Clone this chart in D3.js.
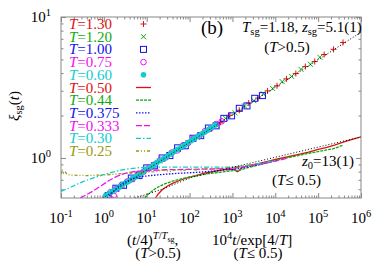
<!DOCTYPE html>
<html>
<head>
<meta charset="utf-8">
<script src="https://cdn.jsdelivr.net/npm/d3@7"></script>
<style>
  body { margin: 0; background: #fff; }
  text { font-family: "Liberation Serif", "Times New Roman", serif; fill: #000; }
</style>
</head>
<body>
<div id="chart"></div>
<script>
// legend / series
let temps = ["1.30", "1.20", "1.00", "0.75", "0.60", "0.50", "0.44", "0.375", "0.333", "0.30", "0.25"]
let colors = ["#dd1111", "#11aa11", "#1111ee", "#ee11ee", "#11cccc", "#dd1111", "#11aa11", "#1111ee", "#ee11ee", "#11cccc", "#999911"]
let kinds = ["plus", "cross", "square", "circle", "dot", "solid", "dotted", "fine", "dashed", "dashdot", "dashdotdot"]

let xTickExp = [-1, 0, 1, 2, 3, 4, 5, 6]
let yTickExp = [0, 1]

// T > 0.5 : markers, [x, xi]
let t130 = [[2.0,0.60],[3.3,0.67],[5.5,0.74],[9.1,0.81],[15,0.90],[25,0.99],[42,1.11],[69,1.20],[115,1.35],[190,1.47],[316,1.64],[525,1.79],[871,2.01],[1445,2.18],[2399,2.45],[3981,2.66],[6607,2.99],[10965,3.25],[18197,3.64],[30200,3.97],[50119,4.45],[83176,4.83],[138038,5.42],[229087,5.90],[380189,6.60]]
let t120 = [[1.58,0.58],[2.63,0.64],[4.37,0.70],[7.24,0.78],[12.0,0.86],[20.0,0.95],[33.1,1.06],[55.0,1.15],[91.2,1.29],[151,1.40],[251,1.57],[417,1.71],[692,1.91],[1148,2.09],[1905,2.34],[3162,2.55],[5248,2.85],[8710,3.11],[14454,3.48],[23988,3.79],[39811,4.25],[66069,4.62],[109648,5.18]]
let t100 = [[1.26,0.54],[1.91,0.61],[2.88,0.64],[4.37,0.72],[6.61,0.75],[10,0.85],[15.1,0.88],[22.9,1.00],[34.7,1.04],[52.5,1.18],[79.4,1.22],[120,1.38],[182,1.44],[275,1.63],[417,1.69],[631,1.91],[955,1.99],[1445,2.25],[2188,2.34],[3311,2.65],[5012,2.77]]
let t075 = [[1.5,0.51],[1.7,0.54],[1.41,0.57],[1.91,0.60],[2.57,0.64],[3.47,0.68],[4.68,0.71],[6.31,0.77],[8.51,0.80],[11.5,0.86],[15.5,0.90],[20.9,0.97],[28.2,1.01],[38.0,1.09],[51.3,1.13],[69.2,1.22],[93.3,1.28],[126,1.38],[170,1.44],[229,1.55],[309,1.62],[417,1.74],[562,1.82]]
let t060 = [[1.10,0.54],[1.32,0.56],[1.58,0.58],[1.91,0.60],[2.29,0.62],[2.75,0.65],[3.31,0.67],[3.98,0.69],[4.79,0.72],[5.75,0.74],[6.92,0.77],[8.32,0.80],[10.0,0.83],[12.0,0.86],[14.5,0.89],[17.4,0.93],[20.9,0.96],[25.1,0.99],[30.2,1.03],[36.3,1.07],[43.7,1.11],[52.5,1.15],[63.1,1.19],[75.9,1.23],[91.2,1.28],[110,1.33],[132,1.38],[158,1.43],[191,1.48],[229,1.53],[275,1.59],[331,1.65],[398,1.71]]

// T <= 0.5 : lines, [x, xi]
let t050 = [[16,0.52],[19,0.56],[23,0.595],[30,0.63],[40,0.66],[60,0.695],[90,0.725],[140,0.75],[220,0.78],[350,0.80],[550,0.82],[800,0.835],[1100,0.83],[1300,0.80],[1450,0.815],[1700,0.86],[2500,0.885],[4000,0.91],[7000,0.95],[12000,0.99],[20000,1.02],[35000,1.06],[60000,1.10],[100000,1.15],[160000,1.19],[250000,1.24],[400000,1.30],[600000,1.35],[1000000,1.41]]
let t044 = [[9,0.52],[11,0.555],[14,0.59],[18,0.62],[25,0.65],[40,0.685],[70,0.715],[120,0.74],[250,0.77],[500,0.79],[900,0.81],[1500,0.82],[2200,0.85],[4000,0.89],[8000,0.94],[15000,0.99],[30000,1.03],[60000,1.08],[100000,1.11],[160000,1.14],[220000,1.16],[300000,1.20],[380000,1.23]]
let t0375 = [[1.2,0.52],[1.6,0.57],[2.2,0.63],[3,0.67],[4.5,0.71],[7,0.735],[12,0.75],[25,0.765],[60,0.78],[150,0.79],[400,0.81],[1000,0.83],[2500,0.87],[6000,0.92],[12000,0.97]]
let t0333 = [[0.28,0.52],[0.4,0.55],[0.6,0.59],[0.9,0.64],[1.3,0.69],[2,0.74],[3,0.775],[5,0.80],[10,0.815],[30,0.825],[100,0.83],[300,0.835],[800,0.84],[2000,0.87],[5000,0.91],[12000,0.96],[20000,1.0]]
let t030 = [[0.1,0.58],[0.15,0.61],[0.22,0.645],[0.35,0.685],[0.55,0.72],[0.9,0.755],[1.5,0.79],[2.5,0.82],[4,0.84],[7,0.855],[15,0.86],[40,0.86],[100,0.86],[300,0.86],[800,0.86],[2000,0.88],[5000,0.92],[10000,0.96]]
let t025 = [[0.1,0.77],[0.107,0.83],[0.115,0.78],[0.125,0.80],[0.14,0.76],[0.2,0.755],[0.4,0.75],[0.7,0.755],[1.2,0.76],[2,0.77],[4,0.78],[8,0.79],[15,0.80],[25,0.82],[35,0.80],[50,0.83],[70,0.81],[100,0.84],[150,0.82],[220,0.85],[300,0.83],[450,0.84],[700,0.85],[1000,0.86],[1500,0.87],[2500,0.89],[3500,0.90]]

// fits
let fitHigh = [[0.95,0.52],[1000000,7.8]]
let fitLow = [[5.3,0.52],[20.4,0.593],[120,0.733],[871,0.849],[1000000,1.41]]

let markerSeries = [t130, t120, t100, t075, t060]
let lineSeries = [t050, t044, t0375, t0333, t030, t025]

let dashes = {solid: null, dotted: "3,1", fine: "1.5,1.5", dashed: "6,2", dashdot: "5,2,1.5,2", dashdotdot: "3,2,1,2,1,2"}

let svg = d3.select("#chart").append("svg").attr("width", 382).attr("height", 267)

let x = d3.scaleLog().domain([0.1, 1e6]).range([61, 361])
let y = d3.scaleLog().domain([0.52, 10]).range([198, 17])

svg.append("clipPath").attr("id", "clip").append("rect")
    .attr("x", 61).attr("y", 17).attr("width", 300).attr("height", 181)

// ticks
let xMajor = xTickExp.map(e => Math.pow(10, e))
let xMinor = []
xTickExp.slice(0, -1).forEach(e => { for (let k = 2; k < 10; k++) xMinor.push(k * Math.pow(10, e)) })
let yMajor = yTickExp.map(e => Math.pow(10, e))
let yMinor = [0.6, 0.7, 0.8, 0.9, 2, 3, 4, 5, 6, 7, 8, 9]

function tickGroup(axis, tx, ty) {
    let g = svg.append("g").attr("transform", `translate(${tx},${ty})`).call(axis)
    g.select(".domain").remove()
    g.selectAll("line").attr("stroke", "#888")
    g.selectAll("text").remove()
}
tickGroup(d3.axisBottom(x).tickValues(xMajor).tickSize(-5), 0, 198)
tickGroup(d3.axisBottom(x).tickValues(xMinor).tickSize(-2.5), 0, 198)
tickGroup(d3.axisTop(x).tickValues(xMajor).tickSize(-5), 0, 17)
tickGroup(d3.axisTop(x).tickValues(xMinor).tickSize(-2.5), 0, 17)
tickGroup(d3.axisLeft(y).tickValues(yMajor).tickSize(-5), 61, 0)
tickGroup(d3.axisLeft(y).tickValues(yMinor).tickSize(-2.5), 61, 0)
tickGroup(d3.axisRight(y).tickValues(yMajor).tickSize(-5), 361, 0)
tickGroup(d3.axisRight(y).tickValues(yMinor).tickSize(-2.5), 361, 0)

// tick labels
xTickExp.forEach(e => {
    let t = svg.append("text").attr("x", x(Math.pow(10, e))).attr("y", 223)
        .attr("text-anchor", "middle").attr("font-size", 15)
    t.append("tspan").text("10")
    t.append("tspan").attr("dy", -6).attr("font-size", 10.5).text(e)
})
yTickExp.forEach(e => {
    let t = svg.append("text").attr("x", 51).attr("y", y(Math.pow(10, e)) + 5)
        .attr("text-anchor", "end").attr("font-size", 15)
    t.append("tspan").text("10")
    t.append("tspan").attr("dy", -6).attr("font-size", 10.5).text(e)
})

// plot
let plot = svg.append("g").attr("clip-path", "url(#clip)")

function drawMarker(g, kind, color, px, py) {
    if (kind === "plus") g.append("path").attr("d", `M${px - 3},${py}H${px + 3}M${px},${py - 3}V${py + 3}`).attr("stroke", color).attr("fill", "none")
    if (kind === "cross") g.append("path").attr("d", `M${px - 2.5},${py - 2.5}L${px + 2.5},${py + 2.5}M${px - 2.5},${py + 2.5}L${px + 2.5},${py - 2.5}`).attr("stroke", color).attr("fill", "none")
    if (kind === "square") g.append("rect").attr("x", px - 3).attr("y", py - 3).attr("width", 6).attr("height", 6).attr("stroke", color).attr("fill", "none")
    if (kind === "circle") g.append("circle").attr("cx", px).attr("cy", py).attr("r", 2.8).attr("stroke", color).attr("fill", "none")
    if (kind === "dot") g.append("circle").attr("cx", px).attr("cy", py).attr("r", 2.8).attr("fill", color)
}

markerSeries.forEach((s, i) => {
    s.forEach(d => drawMarker(plot, kinds[i], colors[i], x(d[0]), y(d[1])))
})

let line = d3.line().x(d => x(d[0])).y(d => y(d[1]))

lineSeries.forEach((s, j) => {
    let i = j + 5
    plot.append("path").datum(s).attr("d", line)
        .attr("fill", "none").attr("stroke", colors[i]).attr("stroke-width", 1.3)
        .attr("stroke-dasharray", dashes[kinds[i]])
})

;[fitHigh, fitLow].forEach(f => {
    plot.append("path").datum(f).attr("d", line)
        .attr("fill", "none").attr("stroke", "#000").attr("stroke-width", 1)
        .attr("stroke-dasharray", "1,2")
})

// frame
svg.append("rect").attr("x", 61).attr("y", 17).attr("width", 300).attr("height", 181)
    .attr("fill", "none").attr("stroke", "#888").attr("stroke-width", 1)

// legend
temps.forEach((tt, i) => {
    let cy = 24 + i * 12.7
    let t = svg.append("text").attr("x", 69).attr("y", cy + 5).attr("font-size", 15).style("fill", colors[i])
    t.append("tspan").attr("font-style", "italic").text("T")
    t.append("tspan").text("=" + tt)
    if (i < 5) drawMarker(svg, kinds[i], colors[i], 143.5, cy)
    else svg.append("line").attr("x1", 136).attr("x2", 151).attr("y1", cy).attr("y2", cy)
        .attr("stroke", colors[i]).attr("stroke-width", 1.3).attr("stroke-dasharray", dashes[kinds[i]])
})

// annotations
svg.append("text").attr("x", 212).attr("y", 34).attr("text-anchor", "middle").attr("font-size", 19).text("(b)")

let a1 = svg.append("text").attr("x", 242).attr("y", 32).attr("font-size", 15)
a1.append("tspan").attr("font-style", "italic").text("T")
a1.append("tspan").attr("dy", 3).attr("font-size", 10.5).text("sg")
a1.append("tspan").attr("dy", -3).text("=1.18, ")
a1.append("tspan").attr("font-style", "italic").text("z")
a1.append("tspan").attr("dy", 3).attr("font-size", 10.5).text("sg")
a1.append("tspan").attr("dy", -3).text("=5.1(1)")

let a2 = svg.append("text").attr("x", 287).attr("y", 52).attr("text-anchor", "middle").attr("font-size", 15)
a2.append("tspan").text("(")
a2.append("tspan").attr("font-style", "italic").text("T")
a2.append("tspan").text(">0.5)")

let a3 = svg.append("text").attr("x", 302).attr("y", 166).attr("font-size", 15)
a3.append("tspan").attr("font-style", "italic").text("z")
a3.append("tspan").attr("dy", 3).attr("font-size", 10.5).text("0")
a3.append("tspan").attr("dy", -3).text("=13(1)")

let a4 = svg.append("text").attr("x", 272).attr("y", 185).attr("font-size", 15)
a4.append("tspan").text("(")
a4.append("tspan").attr("font-style", "italic").text("T")
a4.append("tspan").text("\u2264 0.5)")

// axis titles
let yt = svg.append("text").attr("transform", "translate(19,106) rotate(-90)").attr("text-anchor", "middle").attr("font-size", 15)
yt.append("tspan").attr("font-style", "italic").text("\u03be")
yt.append("tspan").attr("dy", 3).attr("font-size", 10.5).text("sg")
yt.append("tspan").attr("dy", -3).text("(")
yt.append("tspan").attr("font-style", "italic").text("t")
yt.append("tspan").text(")")

let xt1 = svg.append("text").attr("x", 127).attr("y", 245).attr("font-size", 15)
xt1.append("tspan").text("(")
xt1.append("tspan").attr("font-style", "italic").text("t")
xt1.append("tspan").text("/4)")
xt1.append("tspan").attr("dy", -6).attr("font-size", 10.5).attr("font-style", "italic").text("T")
xt1.append("tspan").attr("font-size", 10.5).text("/")
xt1.append("tspan").attr("font-size", 10.5).attr("font-style", "italic").text("T")
xt1.append("tspan").attr("dy", 2.5).attr("font-size", 8).text("sg")
xt1.append("tspan").attr("dy", 3.5).text(",")

let xt2 = svg.append("text").attr("x", 158).attr("y", 258).attr("text-anchor", "middle").attr("font-size", 15)
xt2.append("tspan").text("(")
xt2.append("tspan").attr("font-style", "italic").text("T")
xt2.append("tspan").text(">0.5)")

let xt3 = svg.append("text").attr("x", 212).attr("y", 245).attr("font-size", 15)
xt3.append("tspan").text("10")
xt3.append("tspan").attr("dy", -6).attr("font-size", 10.5).text("4")
xt3.append("tspan").attr("dy", 6).attr("font-style", "italic").text("t")
xt3.append("tspan").text("/exp[4/")
xt3.append("tspan").attr("font-style", "italic").text("T")
xt3.append("tspan").text("]")

let xt4 = svg.append("text").attr("x", 258).attr("y", 258).attr("text-anchor", "middle").attr("font-size", 15)
xt4.append("tspan").text("(")
xt4.append("tspan").attr("font-style", "italic").text("T")
xt4.append("tspan").text("\u2264 0.5)")
</script>
</body>
</html>
